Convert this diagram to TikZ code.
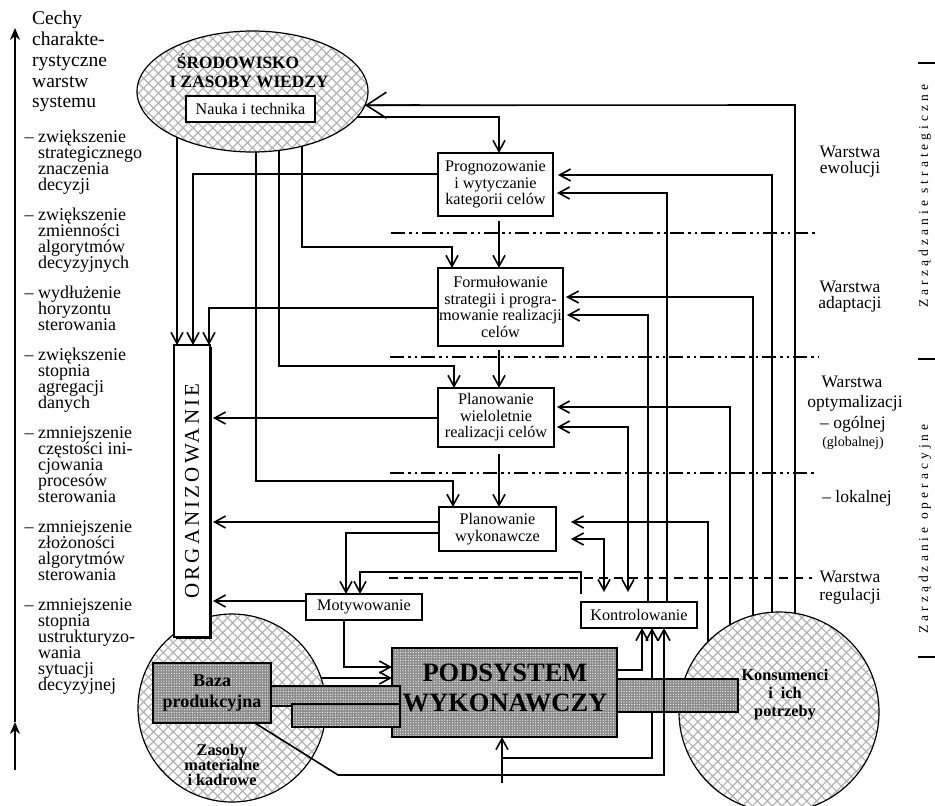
\documentclass[tikz,border=0pt]{standalone}
\usepackage{fontspec}
\setmainfont{Liberation Serif}
\newfontfamily\trackedfont[LetterSpace=30]{Liberation Serif}
\newfontfamily\orgfont[LetterSpace=15]{Liberation Serif}
\usetikzlibrary{arrows.meta,shapes.geometric,patterns.meta,calc}
\pgfdeclarelayer{back}
\pgfdeclarelayer{front}
\pgfsetlayers{back,main,front}

\begin{document}
\begin{tikzpicture}[x=1pt,y=-1pt,
  >={Straight Barb[length=11pt,width=12pt]},
  conn/.style={line width=1.6pt},
  arr/.style={conn,->},
  twoway/.style={conn,<->},
  bigarr/.style={conn,-{Straight Barb[length=20pt,width=26pt]}},
  axisarr/.style={line width=1.4pt,-{Stealth[length=12pt,width=10pt]}},
  procbox/.style={draw,line width=1.6pt,fill=white,inner sep=0pt,outer sep=0pt,
    align=center,font=\fontsize{16.2}{16.5}\selectfont},
  thickbox/.style={procbox,line width=2.6pt},
  crossfill/.style={draw,line width=1.2pt,inner sep=0pt,outer sep=0pt,
    preaction={fill=white},
    preaction={pattern={Lines[angle=45,distance=7pt,line width=1.2pt]},pattern color=black!30},
    preaction={pattern={Lines[angle=-45,distance=7pt,line width=1.2pt]},pattern color=black!30}},
  greyfill/.style={draw,line width=1.4pt,
    preaction={fill=black!45},
    preaction={pattern={Dots[radius=0.6pt,distance=2.6pt]},pattern color=white}},
  divider/.style={line width=1.6pt,dash pattern=on 14pt off 4pt on 2.5pt off 4pt on 2.5pt off 4pt},
  regdivider/.style={line width=1.6pt,dash pattern=on 9pt off 6pt},
  sidetxt/.style={font=\fontsize{18}{16}\selectfont,anchor=base west,inner sep=0pt},
  headtxt/.style={font=\fontsize{19.5}{21}\selectfont,anchor=base west,inner sep=0pt},
  lbl/.style={font=\fontsize{17.5}{16}\selectfont,anchor=base,inner sep=0pt},
  boldtxt/.style={font=\bfseries\fontsize{16.3}{15}\selectfont,anchor=base,inner sep=0pt},
  vtxt/.style={rotate=90,inner sep=0pt,font=\trackedfont\fontsize{13.5}{13.5}\selectfont},
]

% ---------- canvas ----------
\begin{pgfonlayer}{back}
\fill[white] (0,0) rectangle (935,806);
\end{pgfonlayer}
\useasboundingbox (0,0) rectangle (935,806);

% ---------- left column: characteristics of the layers ----------
\coordinate (axbot) at (15,770);
\coordinate (axmid) at (15,722);
\coordinate (axtop) at (15,28);
\draw[axisarr] (axbot) -- (axmid);
\draw[axisarr] (axmid) -- (axtop);

\foreach \yy/\lin in {24/Cechy,45/charakte-,66/rystyczne,87/warstw,107/systemu}
  \node[headtxt] (h\yy) at (32,\yy) {\lin};

\foreach \yy/\lin in {
  142/{\llap{– }zwiększenie},158/strategicznego,174/znaczenia,190/decyzji,
  220/{\llap{– }zwiększenie},236/zmienności,252/algorytmów,268/decyzyjnych,
  298/{\llap{– }wydłużenie},314/horyzontu,330/sterowania,
  360/{\llap{– }zwiększenie},376/stopnia,392/agregacji,408/danych,
  438/{\llap{– }zmniejszenie},454/{częstości ini-},470/cjowania,486/procesów,502/sterowania,
  532/{\llap{– }zmniejszenie},548/złożoności,564/algorytmów,580/sterowania,
  610/{\llap{– }zmniejszenie},626/stopnia,642/ustrukturyzo-,658/wania,674/sytuacji,690/decyzyjnej}
  \node[sidetxt] (s\yy) at (38,\yy) {\lin};

% ---------- right column: layers and management levels ----------
\node[lbl] (w1a) at (850,157) {Warstwa};
\node[lbl] (w1b) at (850,173) {ewolucji};
\node[lbl] (w2a) at (850,292) {Warstwa};
\node[lbl] (w2b) at (850,308) {adaptacji};
\node[lbl] (w3a) at (852,387) {Warstwa};
\node[lbl] (w3b) at (855,407) {optymalizacji};
\node[lbl] (w3c) at (853,428) {– ogólnej};
\node[lbl,font=\fontsize{14}{14}\selectfont] (w3d) at (853,446) {(globalnej)};
\node[lbl] (w4a) at (857,502) {– lokalnej};
\node[lbl] (w5a) at (850,582) {Warstwa};
\node[lbl] (w5b) at (850,600) {regulacji};

\node[vtxt] (zstrat) at (925,196) {Zarządzanie strategiczne};
\node[vtxt] (zoper) at (925,529) {Zarządzanie operacyjne};
\draw[line width=1.2pt] (918,63) -- (935,63);
\draw[line width=1.2pt] (918,359) -- (935,359);
\draw[line width=1.2pt] (918,657) -- (935,657);

% ---------- environment, resources, consumers ----------
\node[ellipse,crossfill,minimum width=231pt,minimum height=121pt] (srod) at (252.5,91.5) {};
\node[circle,crossfill,minimum size=188pt] (zasoby) at (232,708) {};
\node[circle,crossfill,minimum size=200pt] (kons) at (779,712) {};

\node[boldtxt,font=\bfseries\fontsize{17.3}{15}\selectfont] (sr1) at (238,68) {ŚRODOWISKO};
\node[boldtxt,font=\bfseries\fontsize{17.3}{15}\selectfont] (sr2) at (249,87) {I ZASOBY WIEDZY};
\node[procbox,minimum width=129pt,minimum height=26pt] (nauka) at (250.5,109) {Nauka i technika};

% ---------- management functions ----------
\node[procbox,minimum width=115pt,minimum height=63pt] (progn) at (495.5,184.5)
  {Prognozowanie\\i wytyczanie\\kategorii celów};
\node[procbox,minimum width=125pt,minimum height=78pt] (form) at (500.5,307)
  {Formułowanie\\strategii i progra-\\mowanie realizacji\\celów};
\node[procbox,minimum width=116pt,minimum height=59pt] (pwl) at (496,417.5)
  {Planowanie\\wieloletnie\\realizacji celów};
\node[thickbox,minimum width=117pt,minimum height=44pt] (pw) at (497.5,529)
  {Planowanie\\wykonawcze};
\node[procbox,minimum width=116pt,minimum height=26pt] (motyw) at (364,607) {Motywowanie};
\node[procbox,minimum width=116pt,minimum height=26pt] (kontr) at (639,615) {Kontrolowanie};

\fill[black] (176,347) rectangle (212,639);
\node[procbox,minimum width=36pt,minimum height=292pt] (org) at (192,491) {};
\node[rotate=90,inner sep=0pt,font=\orgfont\fontsize{21}{21}\selectfont] (orgtxt) at (org.center) {ORGANIZOWANIE};

% ---------- executive subsystem and flows of resources ----------
\node[greyfill,line width=2.6pt,minimum width=225pt,minimum height=89pt,inner sep=0pt,outer sep=0pt] (ps) at (504.5,692.5) {};
\node[greyfill,minimum width=118pt,minimum height=60pt,inner sep=0pt,outer sep=0pt,
  align=center,font=\bfseries\fontsize{18}{21}\selectfont] (baza) at (212,693) {Baza\\produkcyjna};
\draw[greyfill] (271,686) rectangle (400,706);
\draw[greyfill] (292,704) rectangle (400,727);
\draw[greyfill] (617,679) rectangle (738,712);
\node[align=center,inner sep=0pt,font=\bfseries\fontsize{26.5}{30}\selectfont] (pstxt) at (505,687.5)
  {PODSYSTEM\\WYKONAWCZY};

\node[boldtxt] (zas1) at (222,755) {Zasoby};
\node[boldtxt] (zas2) at (222,770) {materialne};
\node[boldtxt] (zas3) at (222,785) {i kadrowe};
\node[boldtxt] (kon1) at (785,680) {Konsumenci};
\node[boldtxt] (kon2) at (785,698) {i\ \ ich};
\node[boldtxt] (kon3) at (785,716) {potrzeby};

% ---------- layer boundaries and connectors ----------
\begin{pgfonlayer}{back}
\draw[divider] (391,233) -- (815,233);
\draw[divider] (390,357) -- (818,357);
\draw[divider] (390,473) -- (815,473);
\draw[regdivider] (389,578) -- (812,578);

% from the environment
\draw[arr] (srod.center -| 177,0) -- (org.north -| 177,0);
\draw[arr] (srod.center -| 256,0) -- (256,481) -- (453,481) -- (pw.north -| 453,0);
\draw[arr] (srod.center -| 279,0) -- (279,366) -- (454,366) -- (pwl.north -| 454,0);
\draw[arr] (srod.center -| 302,0) -- (302,247) -- (452,247) -- (form.north -| 452,0);
\draw[arr] (srod.center |- 0,117) -- (499,117) -- (progn.north -| 499,0);

% main chain of planning
\draw[arr] ($(progn.south -| 499,0)+(0,5)$) -- (form.north -| 499,0);
\draw[arr] ($(form.south -| 499,0)+(0,4)$) -- (pwl.north -| 499,0);
\draw[arr] ($(pwl.south -| 499,0)+(0,7)$) -- (pw.north -| 499,0);

% to organizing
\draw[arr] (progn.west |- 0,174) -- (193,174) -- (org.north -| 193,0);
\draw[arr] (form.west |- 0,308) -- (209,308) -- (org.north -| 209,0);
\draw[arr] (pwl.west |- 0,418) -- ($(org.east |- 0,418)+(3,0)$);
\draw[arr] (pw.west |- 0,522) -- ($(org.east |- 0,522)+(3,0)$);
\draw[arr] (motyw.west |- 0,601) -- ($(org.east |- 0,601)+(3,0)$);

% motivating
\draw[arr] (pw.west |- 0,533) -- (346,533) -- (motyw.north -| 346,0);
\draw[arr] ($(kontr.north west)+(0,-8)$) -- (581,572) -- (360,572) -- (motyw.north -| 360,0);
\draw[arr] (motyw.south -| 344,0) -- (344,667) -- (ps.west |- 0,667);
\draw[arr] (zasoby.center |- 0,678) -- (ps.west |- 0,678);

% feedback from controlling
\draw[twoway] ($(pw.east |- 0,539)+(15,0)$) -- (604,539) -- ($(kontr.north -| 604,0)+(0,-10)$);
\draw[twoway] ($(pwl.east |- 0,427)+(3,0)$) -- (628,427) -- ($(kontr.north -| 628,0)+(0,-10)$);
\draw[arr] (kontr.north -| 648,0) -- (648,315) -- ($(form.east |- 0,315)+(4,0)$);
\draw[arr] (kontr.north -| 667,0) -- (667,193) -- ($(progn.east |- 0,193)+(4,0)$);

% from the consumers
\draw[arr] (kons.center -| 708,0) -- (708,522) -- ($(pw.east |- 0,522)+(15,0)$);
\draw[arr] (kons.center -| 730,0) -- (730,407) -- ($(pwl.east |- 0,407)+(3,0)$);
\draw[arr] (kons.center -| 753,0) -- (753,297) -- ($(form.east |- 0,297)+(3,0)$);
\draw[arr] (kons.center -| 772,0) -- (772,175) -- ($(progn.east |- 0,175)+(5,0)$);
\draw[conn] (kons.center -| 795,0) -- (795,105) -- (srod.-7);

% into controlling from below
\coordinate (inp) at (502,783);
\coordinate (split) at (502,758);
\draw[arr] (ps.east |- 0,670) -- (642,670) -- (kontr.south -| 642,0);
\draw[arr] (inp) -- (ps.south -| 502,0);
\draw[arr] (split) -- (652,758) -- (kontr.south -| 652,0);
\end{pgfonlayer}

\begin{pgfonlayer}{front}
\draw[bigarr] (420,105) -- (srod.-7);
\draw[arr] ($(baza.south west)!0.864!(baza.south east)$) -- (338,775) -- (664,775) -- (kontr.south -| 664,0);
\end{pgfonlayer}
\end{tikzpicture}
\end{document}
